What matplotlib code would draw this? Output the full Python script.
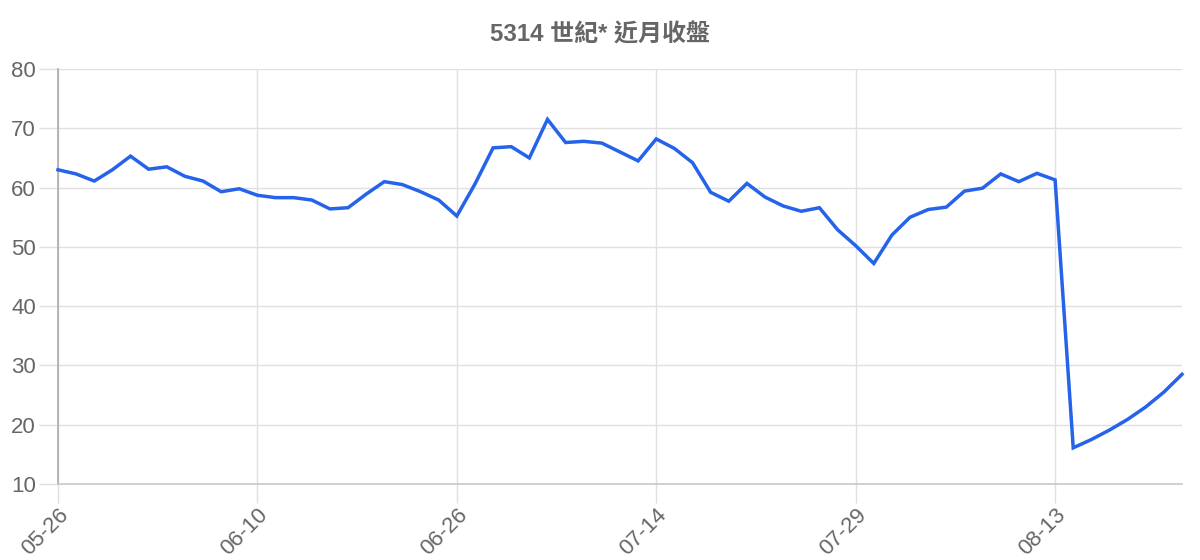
import matplotlib
matplotlib.use('Agg')
import matplotlib.pyplot as plt
import numpy as np

# closing prices, 63 trading days
close = [63.0, 62.3, 61.1, 63.0, 65.3, 63.1, 63.5, 61.9, 61.1, 59.3,
         59.8, 58.7, 58.3, 58.3, 57.9, 56.4, 56.6, 58.9, 61.0, 60.5,
         59.3, 57.9, 55.2, 60.6, 66.7, 66.9, 65.0, 71.5, 67.6, 67.8,
         67.5, 66.0, 64.5, 68.2, 66.6, 64.2, 59.2, 57.7, 60.7, 58.4,
         56.9, 56.0, 56.6, 52.9, 50.2, 47.2, 52.0, 55.0, 56.3, 56.7,
         59.4, 59.9, 62.3, 61.0, 62.4, 61.3, 16.1, 17.5, 19.1, 20.9,
         23.0, 25.5, 28.5]
tick_pos = [0, 11, 22, 33, 44, 55]
tick_labels = ['05-26', '06-10', '06-26', '07-14', '07-29', '08-13']
y_ticks = [10, 20, 30, 40, 50, 60, 70, 80]
title = '5314 世紀* 近月收盤'

LINE = '#2563eb'
GRID = '#e0e0e0'
TXT = '#666666'

plt.rcParams['font.family'] = ['Liberation Sans', 'Noto Sans CJK TC', 'DejaVu Sans']

fig = plt.figure(figsize=(12, 5.6), dpi=100)
ax = fig.add_axes([58/1200, 1-484/560, (1182-58)/1200, (484-69)/560])

x = np.arange(len(close))
ax.plot(x, close, color=LINE, linewidth=2.5, solid_joinstyle='miter', zorder=3, clip_on=False)

ax.set_xlim(0, len(close) - 1)
ax.set_ylim(10, 80)
ax.set_yticks(y_ticks)
ax.set_xticks(tick_pos)
ax.set_xticklabels(tick_labels, rotation=45, ha='right', va='top',
                   rotation_mode='anchor')

ax.grid(True, color=GRID, linewidth=1)
ax.set_axisbelow(True)
for s in ['top', 'right']:
    ax.spines[s].set_visible(False)
ax.spines['left'].set_color('#aaaaaa')
ax.spines['bottom'].set_color('#c8c8c8')
ax.spines['left'].set_linewidth(1.2)
ax.spines['bottom'].set_linewidth(1.2)
ax.tick_params(axis='both', colors=GRID, labelcolor=TXT, labelsize=16,
               length=14, width=1)
ax.tick_params(axis='y', pad=2)
ax.tick_params(axis='x', pad=1)

fig.text(0.5, 1-35/560, title, ha='center', va='center', fontsize=17.3,
         fontweight='bold', color=TXT)

fig.savefig('out.png', dpi=100, facecolor='white')
